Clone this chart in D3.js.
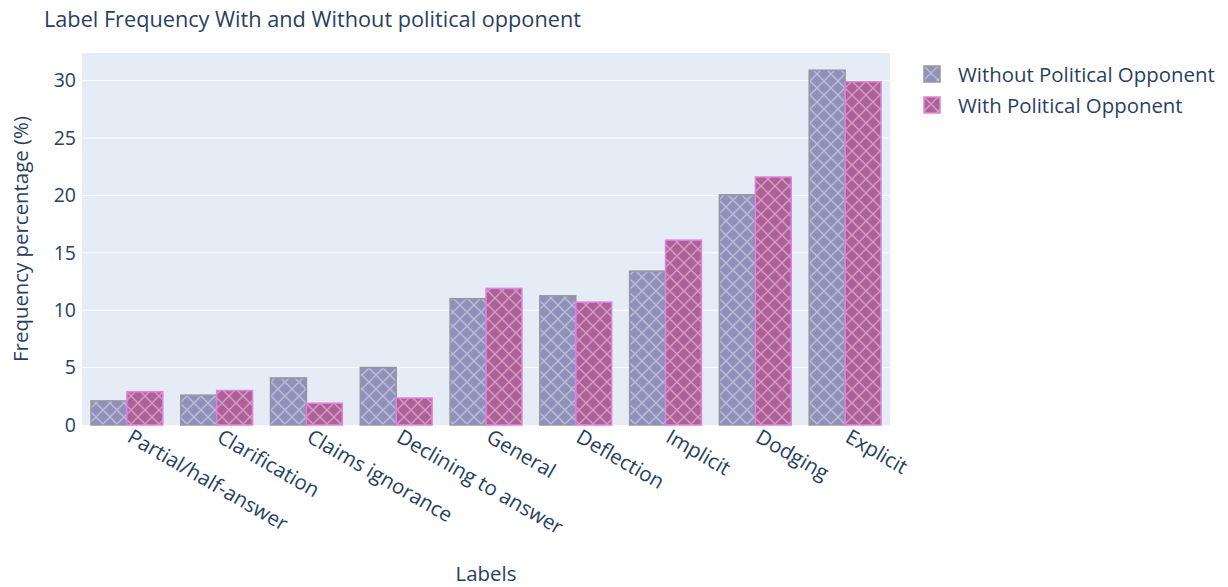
<!DOCTYPE html>
<html><head><meta charset="utf-8">
<script src="https://cdn.jsdelivr.net/npm/d3@7"></script>
<style>body{margin:0;background:#fff;font-family:"Open Sans",sans-serif;}</style>
</head><body>
<svg id="chart" width="1228" height="587"></svg>
<script>
const categories = ["Partial/half-answer","Clarification","Claims ignorance","Declining to answer","General","Deflection","Implicit","Dodging","Explicit"];
const withoutOpp = [2.1, 2.6, 4.1, 5.0, 11.0, 11.25, 13.4, 20.05, 30.9];
const withOpp = [2.9, 3.0, 1.9, 2.35, 11.9, 10.7, 16.1, 21.6, 29.9];
const seriesNames = ["Without Political Opponent","With Political Opponent"];
const yTicks = [0,5,10,15,20,25,30];

const svg = d3.select("#chart");
const m = {l:82, r:338, t:53, b:162};
const W = 1228, H = 587;
const pw = W - m.l - m.r, ph = H - m.t - m.b;
const txt = "#2a3f5f";

const fills = ["rgb(143,145,187)","rgb(176,96,152)"];
const strokes = ["rgb(150,150,160)","rgb(225,130,225)"];

const defs = svg.append("defs");
const ps = 14;
fills.forEach((f,i)=>{
  const p = defs.append("pattern").attr("id","pat"+i).attr("patternUnits","userSpaceOnUse")
    .attr("width",ps).attr("height",ps);
  p.append("rect").attr("width",ps).attr("height",ps).attr("fill",f);
  p.append("path").attr("d",`M0,0L${ps},${ps}M${ps},0L0,${ps}`)
    .attr("stroke","rgba(255,255,255,0.4)").attr("stroke-width",1.4).attr("fill","none");
});

const g = svg.append("g").attr("transform",`translate(${m.l},${m.t})`);
g.append("rect").attr("width",pw).attr("height",ph).attr("fill","#e5ecf6");

const x = d3.scaleBand().domain(categories).range([0,pw]).paddingInner(0.2).paddingOuter(0.1);
const x1 = d3.scaleBand().domain([0,1]).range([0,x.bandwidth()]);
const y = d3.scaleLinear().domain([0,32.4]).range([ph,0]);

g.selectAll(".grid").data(yTicks.filter(d=>d>0)).join("line")
  .attr("x1",0).attr("x2",pw).attr("y1",d=>y(d)).attr("y2",d=>y(d))
  .attr("stroke","#fff").attr("stroke-width",1);

const series = [withoutOpp, withOpp];
series.forEach((vals,si)=>{
  g.selectAll(".bar"+si).data(vals).join("rect")
    .attr("x",(d,i)=>x(categories[i])+x1(si))
    .attr("y",d=>y(d)).attr("width",x1.bandwidth()).attr("height",d=>ph-y(d))
    .attr("fill",`url(#pat${si})`).attr("stroke",strokes[si]).attr("stroke-width",1.5);
});

// y axis
const ya = g.append("g").call(d3.axisLeft(y).tickValues(yTicks).tickSize(0).tickPadding(6));
ya.select(".domain").remove();
ya.selectAll("text").attr("fill",txt).attr("font-size",19.5).attr("font-family","Open Sans");

// x axis
const xa = g.append("g").attr("transform",`translate(0,${ph})`).call(d3.axisBottom(x).tickSize(0).tickPadding(0));
xa.select(".domain").remove();
xa.selectAll("text").attr("fill",txt).attr("font-size",20.5).attr("font-family","Open Sans")
  .attr("text-anchor","start").attr("dy",0)
  .attr("transform","translate(-1,16) rotate(30)");

svg.append("text").attr("x",44).attr("y",27).text("Label Frequency With and Without political opponent")
  .attr("fill",txt).attr("font-size",21.7).attr("font-family","Open Sans");
svg.append("text").attr("x",m.l+pw/2).attr("y",581).attr("text-anchor","middle").text("Labels")
  .attr("fill",txt).attr("font-size",20.4).attr("font-family","Open Sans");
svg.append("text").attr("transform",`translate(28,${m.t+ph/2}) rotate(-90)`).attr("text-anchor","middle")
  .text("Frequency percentage (%)").attr("fill",txt).attr("font-size",20.4).attr("font-family","Open Sans");

const lg = svg.append("g").attr("transform","translate(924,66)");
seriesNames.forEach((n,i)=>{
  const r = lg.append("g").attr("transform",`translate(0,${i*31})`);
  r.append("rect").attr("x",0).attr("y",0).attr("width",16).attr("height",16)
    .attr("fill",`url(#pat${i})`).attr("stroke",strokes[i]).attr("stroke-width",1.5);
  r.append("text").attr("x",34).attr("y",16).text(n).attr("fill",txt).attr("font-size",20.4).attr("font-family","Open Sans");
});
</script>
</body></html>
